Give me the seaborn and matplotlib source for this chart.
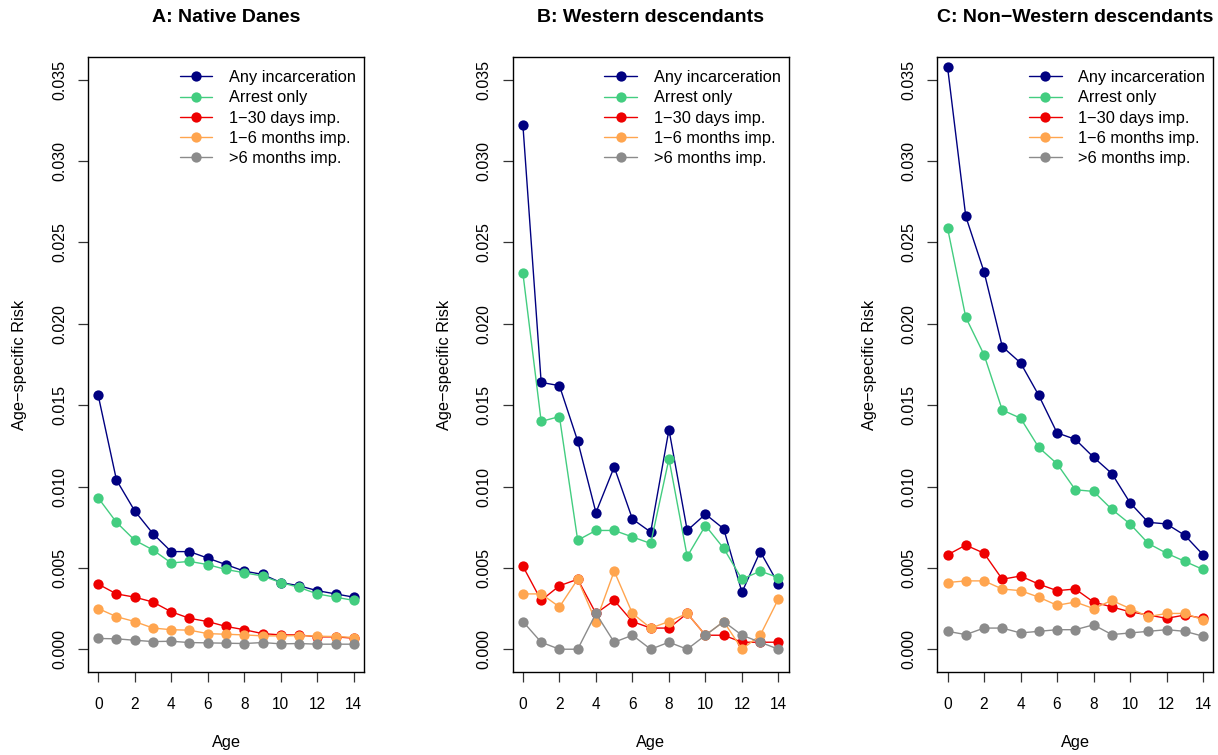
import matplotlib
matplotlib.use("Agg")
import matplotlib.pyplot as plt
from matplotlib.lines import Line2D
import seaborn as sns
import pandas as pd

# ---------------- data ----------------
ages = list(range(15))
series_names = ["Any incarceration", "Arrest only", "1\u221230 days imp.",
                "1\u22126 months imp.", ">6 months imp."]
titles = ["A: Native Danes", "B: Western descendants", "C: Non\u2212Western descendants"]

A_any = [0.0156, 0.0104, 0.0085, 0.0071, 0.0060, 0.0060, 0.0056, 0.0052, 0.0048, 0.0046, 0.0041, 0.0039, 0.0036, 0.0034, 0.0032]
A_arrest = [0.0093, 0.0078, 0.0067, 0.0061, 0.0053, 0.0054, 0.0052, 0.0049, 0.0047, 0.0045, 0.0041, 0.0038, 0.0034, 0.0032, 0.0030]
A_d130 = [0.0040, 0.0034, 0.0032, 0.0029, 0.0023, 0.0019, 0.0017, 0.0014, 0.0012, 0.00096, 0.00088, 0.00088, 0.00076, 0.00076, 0.00068]
A_m16 = [0.0025, 0.0020, 0.0017, 0.0013, 0.0012, 0.00117, 0.00096, 0.00092, 0.00088, 0.00082, 0.00082, 0.00084, 0.0008, 0.00078, 0.00072]
A_m6 = [0.00066, 0.00064, 0.00055, 0.00047, 0.00049, 0.00041, 0.00039, 0.00037, 0.00035, 0.00041, 0.00033, 0.00035, 0.00031, 0.00031, 0.00031]

B_any = [0.0322, 0.0164, 0.0162, 0.0128, 0.0084, 0.0112, 0.0080, 0.0072, 0.0135, 0.0073, 0.0083, 0.0074, 0.0035, 0.0060, 0.0040]
B_arrest = [0.0231, 0.0140, 0.0143, 0.0067, 0.0073, 0.0073, 0.0069, 0.0065, 0.0117, 0.0057, 0.0076, 0.0062, 0.0043, 0.0048, 0.0044]
B_d130 = [0.0051, 0.0030, 0.0039, 0.0043, 0.0022, 0.0030, 0.0017, 0.0013, 0.0013, 0.0022, 0.00086, 0.00086, 0.00043, 0.00043, 0.00043]
B_m16 = [0.0034, 0.0034, 0.0026, 0.0043, 0.0017, 0.0048, 0.0022, 0.0013, 0.0017, 0.0022, 0.00086, 0.0017, 0.0, 0.00086, 0.0031]
B_m6 = [0.0017, 0.00043, 0.0, 0.0, 0.0022, 0.00043, 0.00086, 0.0, 0.00043, 0.0, 0.00086, 0.0017, 0.00086, 0.00043, 0.0]

C_any = [0.0358, 0.0266, 0.0232, 0.0186, 0.0176, 0.0156, 0.0133, 0.0129, 0.0118, 0.0108, 0.0090, 0.0078, 0.0077, 0.0070, 0.0058]
C_arrest = [0.0259, 0.0204, 0.0181, 0.0147, 0.0142, 0.0124, 0.0114, 0.0098, 0.0097, 0.0086, 0.0077, 0.0065, 0.0059, 0.0054, 0.0049]
C_d130 = [0.0058, 0.0064, 0.0059, 0.0043, 0.0045, 0.0040, 0.0036, 0.0037, 0.0029, 0.0026, 0.0023, 0.0021, 0.0019, 0.0021, 0.0019]
C_m16 = [0.0041, 0.0042, 0.0042, 0.0037, 0.0036, 0.0032, 0.0027, 0.0029, 0.0025, 0.0030, 0.0025, 0.0020, 0.0022, 0.0022, 0.0018]
C_m6 = [0.0011, 0.0009, 0.0013, 0.0013, 0.0010, 0.0011, 0.0012, 0.0012, 0.0015, 0.0009, 0.0010, 0.0011, 0.0012, 0.0011, 0.0008]

y_ticks = [0.000, 0.005, 0.010, 0.015, 0.020, 0.025, 0.030, 0.035]
x_ticks = [0, 2, 4, 6, 8, 10, 12, 14]

panels = [
    [A_any, A_arrest, A_d130, A_m16, A_m6],
    [B_any, B_arrest, B_d130, B_m16, B_m6],
    [C_any, C_arrest, C_d130, C_m16, C_m6],
]

colors = ["#000080", "#43CD80", "#EE0000", "#FFA54F", "#8B8B8B"]

# ---------------- style ----------------
sns.set_theme(style="white")
plt.rcParams["font.family"] = ["Liberation Sans", "DejaVu Sans"]
plt.rcParams["text.color"] = "black"
plt.rcParams["axes.labelcolor"] = "black"
plt.rcParams["xtick.color"] = "black"
plt.rcParams["ytick.color"] = "black"

W, H = 1218, 755
fig = plt.figure(figsize=(W / 100, H / 100), dpi=100)

box_lefts = [88, 512.7, 937.3]
box_w = 276
box_top, box_bottom = 57, 672

for i, (vals_list, title) in enumerate(zip(panels, titles)):
    left = box_lefts[i]
    ax = fig.add_axes([left / W, (H - box_bottom) / H, box_w / W, (box_bottom - box_top) / H])
    for vals, name, c in zip(vals_list, series_names, colors):
        df = pd.DataFrame({"Age": ages, "Risk": vals})
        sns.lineplot(data=df, x="Age", y="Risk", color=c, marker="o", markersize=7.4,
                     markeredgewidth=0, linewidth=1.0, ax=ax, legend=False)
    ax.set_xlim(-0.56, 14.56)
    ax.set_ylim(-0.0014, 0.0364)
    ax.set_xticks(x_ticks)
    ax.set_yticks(y_ticks)
    ax.set_yticklabels([f"{v:.3f}" for v in y_ticks], rotation=90, va="center")
    ax.tick_params(axis="both", direction="out", length=7, width=0.9, color="#333333",
                   labelcolor="black", bottom=True, left=True)
    ax.tick_params(axis="x", pad=11, labelsize=11.2)
    ax.tick_params(axis="y", pad=8, labelsize=11.5)
    for sp in ax.spines.values():
        sp.set_visible(True)
        sp.set_color("black")
        sp.set_linewidth(1.0)
    ax.set_xlabel("")
    ax.set_ylabel("")
    ax.grid(False)

    handles = [Line2D([0], [0], color=c, marker="o", markersize=7.4, markeredgewidth=0, linewidth=1.0)
               for c in colors]
    leg = ax.legend(handles, series_names, loc="upper right", frameon=False, fontsize=11.8,
                    bbox_to_anchor=(1.0, 1.0 - 5.0 / (box_bottom - box_top)),
                    borderaxespad=0.0, borderpad=0.5, handlelength=2.0, handletextpad=1.0,
                    labelspacing=0.32)
    for t in leg.get_texts():
        t.set_color("black")

    cx = (left + box_w / 2) / W
    fig.text(cx, 1 - 17.5 / H, title, ha="center", va="center", fontsize=14, fontweight="bold")
    fig.text(cx, 1 - 742 / H, "Age", ha="center", va="center", fontsize=11.8)
    fig.text((left - 68) / W, 1 - ((box_top + box_bottom) / 2) / H, "Age\u2212specific Risk",
             ha="center", va="center", rotation=90, fontsize=11.8)

fig.savefig("out.png", dpi=100)
